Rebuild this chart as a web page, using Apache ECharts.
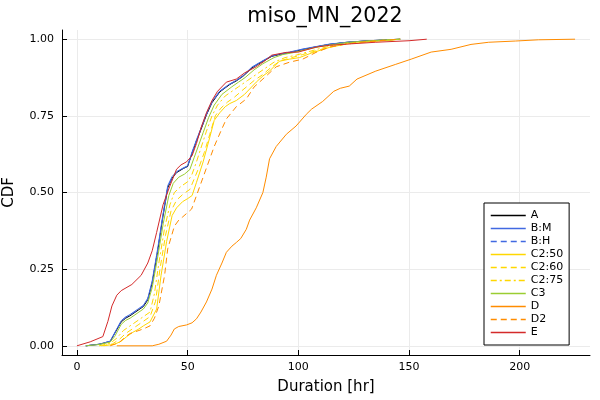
<!DOCTYPE html>
<html>
<head>
<meta charset="utf-8">
<title>miso_MN_2022</title>
<script src="https://cdn.jsdelivr.net/npm/echarts@6/dist/echarts.min.js"></script>
<style>
  html, body { margin: 0; padding: 0; background: #fff; }
  #chart { width: 600px; height: 400px; }
</style>
</head>
<body>
<div id="chart"></div>
<script>
// CDF of duration per scenario: [hr, cdf]
const seriesNames = ['A', 'B:M', 'B:H', 'C2:50', 'C2:60', 'C2:75', 'C3', 'D', 'D2', 'E'];
const xTicks = [0, 50, 100, 150, 200];
const yTicks = [0, 0.25, 0.5, 0.75, 1];

const cdfA = [[4,0],[10,0.005],[15,0.014],[17,0.04],[20,0.078],[22,0.09],[24,0.098],[28,0.118],[30,0.128],[32,0.15],[34,0.205],[36.5,0.31],[38.8,0.42],[41,0.515],[43,0.547],[45,0.565],[48,0.578],[50,0.585],[52,0.628],[54,0.668],[56,0.705],[58.5,0.753],[61,0.793],[64.5,0.828],[69,0.852],[72,0.864],[75,0.879],[79,0.906],[83,0.924],[88,0.944],[92,0.951],[96,0.956],[102,0.966],[108,0.975],[114,0.983],[122,0.99],[132,0.995],[146,1]];
const cdfBM = [[4,0],[10,0.005],[15,0.015],[17,0.042],[20,0.082],[22,0.094],[24,0.102],[28,0.122],[30,0.132],[32,0.155],[34,0.212],[36.5,0.318],[38.8,0.426],[41,0.522],[43,0.552],[45,0.568],[48,0.58],[50,0.587],[52,0.632],[54,0.672],[56,0.709],[58.5,0.757],[61,0.797],[64.5,0.831],[69,0.854],[72,0.866],[75,0.881],[79,0.909],[83,0.926],[88,0.946],[92,0.952],[96,0.958],[102,0.968],[108,0.976],[114,0.984],[122,0.99],[132,0.995],[146,1]];
const cdfBH = [[4,0],[10,0.005],[15,0.015],[17,0.04],[20,0.08],[22,0.093],[24,0.1],[28,0.12],[30,0.13],[32,0.152],[34,0.206],[36.5,0.312],[38.8,0.42],[41,0.516],[43,0.549],[45,0.566],[48,0.579],[50,0.586],[52,0.629],[54,0.669],[56,0.706],[58.5,0.754],[61,0.794],[64.5,0.829],[69,0.853],[72,0.865],[75,0.88],[79,0.907],[83,0.925],[88,0.945],[92,0.952],[96,0.957],[102,0.967],[108,0.975],[114,0.983],[122,0.99],[132,0.995],[146,1]];
const cdfC250 = [[12,0],[17,0.005],[20,0.015],[22.5,0.03],[25,0.043],[28,0.055],[30,0.065],[33,0.078],[36,0.12],[38,0.23],[40.5,0.34],[43,0.425],[45,0.45],[47.7,0.47],[50,0.48],[52,0.49],[54,0.533],[57,0.6],[60,0.68],[62,0.735],[64.5,0.76],[67,0.78],[69,0.79],[72,0.8],[75.7,0.82],[81,0.86],[84,0.88],[87,0.896],[91.4,0.928],[96,0.935],[100.5,0.94],[106,0.955],[114,0.973],[122,0.985],[130,0.99],[140,0.996],[146,1]];
const cdfC260 = [[11,0],[16,0.006],[19,0.02],[22,0.04],[25,0.055],[28,0.07],[30,0.08],[33,0.095],[35.5,0.145],[37.5,0.25],[40,0.36],[42.5,0.44],[45,0.475],[48,0.495],[51,0.51],[53,0.545],[55,0.58],[57.5,0.63],[60,0.69],[62.5,0.75],[65,0.775],[68,0.795],[71,0.81],[75,0.835],[80,0.865],[84,0.885],[88,0.91],[92,0.93],[97,0.94],[102,0.95],[108,0.962],[114,0.975],[122,0.985],[132,0.993],[146,1]];
const cdfC275 = [[10,0],[15,0.008],[18,0.025],[21,0.05],[24,0.065],[28,0.085],[30,0.095],[33,0.11],[35,0.17],[37,0.27],[39.5,0.38],[42,0.46],[44,0.5],[47,0.52],[50,0.535],[52,0.56],[54,0.6],[56,0.645],[58.5,0.7],[61,0.75],[63.5,0.785],[67,0.815],[70,0.83],[73,0.845],[77,0.865],[81,0.885],[85,0.905],[89,0.925],[94,0.94],[99,0.948],[104,0.958],[110,0.97],[116,0.98],[124,0.988],[134,0.995],[146,1]];
const cdfC3 = [[4,0],[10,0.004],[15,0.012],[17,0.03],[20,0.07],[22,0.083],[24,0.09],[28,0.11],[30,0.12],[32,0.14],[34,0.19],[36.5,0.29],[39,0.4],[41.5,0.49],[43.5,0.53],[46,0.55],[48.6,0.56],[51,0.575],[53,0.615],[55,0.655],[57,0.695],[59.5,0.745],[62,0.785],[65.5,0.82],[70,0.845],[73,0.86],[76,0.875],[80,0.9],[84,0.92],[89,0.94],[93,0.95],[97,0.955],[103,0.965],[109,0.975],[115,0.982],[123,0.99],[133,0.995],[146,1]];
const cdfD = [[18,0],[34,0],[37,0.005],[40.5,0.015],[42.5,0.035],[44,0.055],[46,0.063],[49.5,0.068],[52,0.075],[54,0.088],[56,0.11],[58.5,0.143],[61,0.185],[63,0.23],[65.5,0.27],[67.5,0.305],[70,0.325],[72,0.337],[74,0.35],[76.5,0.38],[78,0.41],[81,0.45],[84,0.5],[85.5,0.55],[87,0.61],[90,0.65],[94.6,0.69],[99,0.717],[103.6,0.755],[106,0.772],[111,0.797],[116,0.83],[119,0.84],[123,0.847],[126.5,0.87],[135,0.896],[144,0.918],[151,0.935],[160,0.958],[169,0.967],[178,0.983],[186,0.99],[198,0.994],[208.5,0.998],[225,1]];
const cdfD2 = [[15,0],[19,0.01],[22,0.03],[24,0.04],[28,0.05],[30,0.055],[33,0.065],[35,0.09],[37,0.13],[39.6,0.23],[41,0.316],[44,0.39],[46,0.41],[47.7,0.42],[51.8,0.446],[54,0.49],[56,0.53],[59,0.59],[62,0.65],[65,0.7],[67.5,0.74],[72,0.78],[76.5,0.805],[80,0.844],[85.5,0.88],[90,0.91],[96,0.925],[102,0.935],[108,0.957],[114,0.974],[120,0.982],[128,0.99],[136,0.995],[146,1]];
const cdfE = [[0,0],[6,0.013],[11.7,0.03],[14,0.08],[15.8,0.13],[18,0.165],[20,0.18],[24.8,0.2],[29,0.23],[32,0.27],[34,0.31],[36,0.37],[38.9,0.46],[41.9,0.52],[45,0.576],[47,0.59],[49.5,0.6],[52,0.62],[54,0.66],[56,0.71],[58.5,0.76],[61,0.8],[63.5,0.83],[67.5,0.86],[72,0.87],[75.7,0.89],[81,0.91],[85,0.93],[88,0.948],[94.5,0.957],[100,0.958],[104,0.966],[108,0.974],[114,0.98],[124,0.985],[135,0.99],[150,0.995],[158,1]];

const seriesData = [cdfA, cdfBM, cdfBH, cdfC250, cdfC260, cdfC275, cdfC3, cdfD, cdfD2, cdfE];
const seriesColors = ['#000000', '#4169e1', '#4169e1', '#ffd700', '#ffd700', '#ffd700', '#9acd32', '#ff8c00', '#ff8c00', '#d42a2a'];
const dashes = ['solid', 'solid', [6, 4], 'solid', [6, 4], [6, 3, 2, 3], 'solid', 'solid', [6, 4], 'solid'];

const chart = echarts.init(document.getElementById('chart'));
const font = 'DejaVu Sans';

const series = seriesNames.map((name, i) => ({
    name: name,
    type: 'line',
    data: seriesData[i],
    symbol: 'none',
    smooth: false,
    animation: false,
    lineStyle: { color: seriesColors[i], width: 1, type: dashes[i] },
    itemStyle: { color: seriesColors[i] }
}));

chart.setOption({
    backgroundColor: '#fff',
    animation: false,
    textStyle: { fontFamily: font },
    title: {
        text: 'miso_MN_2022',
        left: 320,
        textAlign: 'center',
        top: 1,
        textStyle: { fontFamily: font, fontSize: 20.6, fontWeight: 'normal', color: '#000' }
    },
    legend: {
        data: seriesNames,
        orient: 'vertical',
        left: 484,
        top: 203,
        width: 87,
        itemWidth: 35,
        itemHeight: 11,
        itemGap: 2,
        padding: [7, 6, 7, 6],
        borderColor: '#000',
        borderWidth: 1,
        borderRadius: 0,
        backgroundColor: '#fff',
        itemStyle: { opacity: 0 },
        lineStyle: { width: 1.5 },
        textStyle: { fontFamily: font, fontSize: 11, color: '#000' }
    },
    grid: { left: 62, right: 10, top: 30, bottom: 45, containLabel: false, outerBoundsMode: 'none' },
    xAxis: {
        type: 'value',
        min: -6.75,
        max: 231.75,
        name: 'Duration [hr]',
        nameLocation: 'middle',
        nameGap: 25,
        nameTextStyle: { fontFamily: font, fontSize: 15, color: '#000' },
        axisLine: { show: true, onZero: false, lineStyle: { color: '#000', width: 1 } },
        axisTick: { show: true, inside: true, length: 5, customValues: xTicks, lineStyle: { color: '#000' } },
        axisLabel: { customValues: xTicks, margin: 7, fontSize: 11, color: '#000', fontFamily: font },
        splitLine: { show: true, customValues: xTicks, lineStyle: { color: '#ebebeb', width: 1 } }
    },
    yAxis: {
        type: 'value',
        min: -0.03,
        max: 1.03,
        name: 'CDF',
        nameLocation: 'middle',
        nameGap: 45,
        nameTextStyle: { fontFamily: font, fontSize: 15, color: '#000' },
        axisLine: { show: true, onZero: false, lineStyle: { color: '#000', width: 1 } },
        axisTick: { show: true, inside: true, length: 5, customValues: yTicks, lineStyle: { color: '#000' } },
        axisLabel: {
            customValues: yTicks,
            margin: 8,
            fontSize: 11,
            color: '#000',
            fontFamily: font,
            formatter: v => v.toFixed(2)
        },
        splitLine: { show: true, customValues: yTicks, lineStyle: { color: '#ebebeb', width: 1 } }
    },
    series: series
});
</script>
</body>
</html>
